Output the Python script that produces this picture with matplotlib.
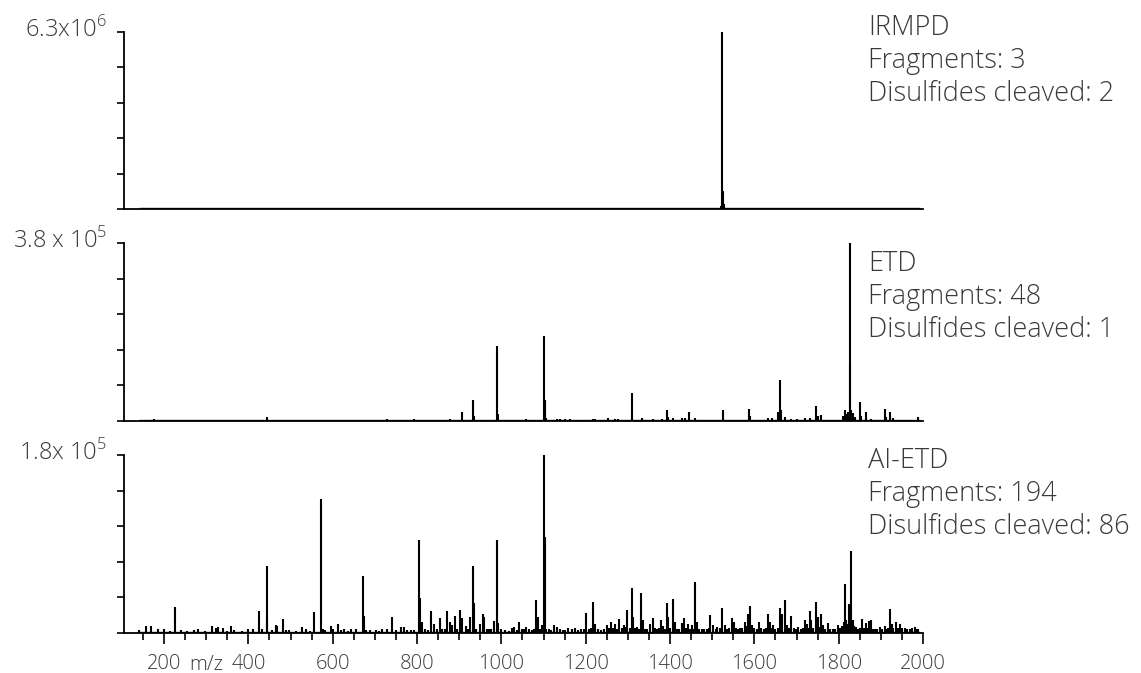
import matplotlib
matplotlib.use("Agg")
import matplotlib.pyplot as plt
from matplotlib.ticker import MultipleLocator
import numpy as np

plt.rcParams["font.family"] = ["Open Sans", "DejaVu Sans"]
plt.rcParams["font.weight"] = "light"
plt.rcParams["mathtext.fontset"] = "custom"
plt.rcParams["mathtext.rm"] = "Open Sans:light"

W, H = 1141, 673
TXT = "#3a3a3a"

# scan range of the recorded trace (m/z)
SCAN_START, SCAN_END = 140, 1992
XMIN, XMAX = 105, 2000

# peaks: (m/z, relative intensity in % of panel max)
IRMPD_PEAKS = [(1522, 1.5), (1524, 100), (1525, 10), (1527, 3)]

ETD_PEAKS = [
    (146, 0.8), (177, 1), (444, 2.2), (729, 1), (792, 1), (879, 1), (907, 5),
    (932, 11.8), (934, 3), (990, 42), (992, 4), (1059, 1), (1102, 48), (1103, 12),
    (1107, 1.5), (1133, 1), (1140, 1), (1150, 1), (1163, 1), (1218, 1.2), (1222, 1),
    (1254, 1.7), (1270, 1.2), (1277, 1.2), (1309, 16), (1311, 3), (1333, 1.7),
    (1359, 1.2), (1380, 1.2), (1392, 6), (1395, 2), (1407, 1.7), (1428, 1.7),
    (1435, 1.7), (1445, 5), (1459, 1.7), (1503, 0.8), (1510, 0.8), (1525, 6),
    (1549, 0.8), (1587, 7), (1589, 3), (1632, 1.7), (1643, 1.7), (1655, 5),
    (1660, 23), (1663, 6), (1672, 2.2), (1688, 1.2), (1700, 1.2), (1720, 1.7),
    (1731, 1.7), (1747, 8.6), (1750, 3), (1757, 3.4), (1810, 3), (1814, 6.2),
    (1818, 4), (1822, 5), (1826, 31), (1827, 100), (1830, 6), (1833, 4.5),
    (1838, 2), (1850, 10.5), (1853, 3), (1864, 5), (1877, 1.2), (1909, 7),
    (1912, 2), (1922, 5), (1928, 1.7), (1975, 0.6), (1989, 2.2),
]

AIETD_PEAKS = [
    (141, 1.5), (157, 3.8), (169, 4), (185, 2.4), (199, 2.4), (213, 1.2), (227, 14.4),
    (240, 1.5), (255, 1), (270, 1.5), (281, 2.4), (298, 1), (314, 3.8), (323, 2.8),
    (327, 3.2), (339, 2.8), (350, 1), (359, 3.8), (366, 1.5), (385, 1), (400, 2.4),
    (410, 2.4), (426, 12.2), (432, 2), (444, 37.9), (445, 7.9), (457, 1.5), (465, 4.7),
    (469, 3.8), (482, 8), (490, 1.5), (497, 1.5), (512, 1), (528, 3.2), (536, 2.4),
    (545, 1.2), (556, 11.6), (572, 75.4), (576, 2), (582, 1.8), (595, 3.8), (601, 2.4),
    (613, 5.3), (620, 1.5), (627, 2.4), (636, 1.2), (644, 2.2), (656, 2.2), (673, 32.3),
    (674, 9.8), (680, 1.5), (688, 1.8), (702, 1.8), (710, 1.2), (718, 2), (729, 2),
    (741, 9), (750, 1.5), (761, 3.2), (770, 3.2), (777, 1.5), (785, 1.8), (792, 1.5),
    (804, 52), (807, 19.7), (812, 6), (820, 2.2), (827, 1.5), (834, 12.2), (840, 5.3),
    (847, 2), (854, 8.4), (860, 2.4), (866, 2), (871, 12.2), (878, 6.2), (883, 4.3),
    (889, 9.8), (895, 2.5), (901, 13.1), (907, 8.4), (915, 4), (920, 2), (925, 9),
    (932, 37.5), (934, 16.9), (941, 2.5), (950, 5.3), (956, 10.7), (960, 8.8),
    (965, 2.5), (970, 2.4), (976, 2), (983, 7), (990, 52.5), (992, 5.6), (1000, 2),
    (1009, 1.5), (1017, 1.2), (1025, 2.8), (1031, 3.4), (1037, 1.5), (1043, 6.2),
    (1048, 2), (1053, 2.4), (1059, 3.4), (1066, 2), (1072, 1.5), (1078, 2.5),
    (1083, 18.8), (1086, 9), (1090, 2), (1094, 2.2), (1096, 4.3), (1099, 4.7),
    (1102, 100), (1103, 54), (1107, 2.5), (1113, 2), (1118, 1.5), (1124, 4.3),
    (1133, 3.4), (1140, 2.4), (1146, 1.5), (1152, 1.5), (1159, 2.8), (1167, 2.2),
    (1175, 2.8), (1182, 1.5), (1190, 2), (1196, 2.5), (1201, 11.3), (1207, 2.4),
    (1212, 3), (1217, 17.4), (1222, 5.3), (1230, 2.2), (1236, 1.5), (1243, 2.5),
    (1250, 4.3), (1255, 2.8), (1260, 6.2), (1265, 3), (1270, 4.9), (1275, 2.5),
    (1280, 8), (1285, 3), (1290, 4.3), (1295, 3.5), (1299, 13.1), (1305, 3),
    (1310, 25.3), (1313, 9), (1317, 3), (1321, 3.4), (1326, 2.5), (1331, 22.7),
    (1335, 7.1), (1340, 2.5), (1346, 2), (1353, 4.9), (1360, 8.6), (1364, 3),
    (1369, 2.4), (1374, 3), (1378, 7.5), (1384, 3.8), (1388, 2.5), (1392, 16.9),
    (1396, 9), (1401, 3), (1406, 19.3), (1412, 6.2), (1417, 2.5), (1422, 2),
    (1428, 5.6), (1434, 8.6), (1438, 3), (1443, 5.3), (1447, 2.5), (1451, 4.3),
    (1455, 2.5), (1459, 28.7), (1463, 6.2), (1468, 2.5), (1475, 2.4), (1481, 2),
    (1487, 2.5), (1492, 3), (1496, 10.3), (1503, 4.3), (1508, 2.5), (1512, 3.4),
    (1518, 3), (1524, 14.1), (1530, 4.3), (1535, 2.5), (1540, 3), (1546, 8.6),
    (1551, 6.2), (1556, 3), (1561, 2), (1566, 2.8), (1571, 3), (1577, 6.2),
    (1581, 4), (1585, 10.5), (1589, 15), (1595, 4.3), (1600, 3), (1606, 2.5),
    (1611, 6.2), (1616, 3), (1622, 2), (1628, 3), (1633, 10.9), (1637, 6.2),
    (1641, 3), (1645, 4.3), (1650, 2.5), (1655, 3), (1662, 14.1), (1666, 10.9),
    (1672, 18.4), (1678, 4.3), (1683, 3), (1688, 9.4), (1693, 3), (1698, 2.5),
    (1704, 3.4), (1710, 2.5), (1716, 3), (1721, 7.5), (1724, 5.3), (1728, 3),
    (1731, 12.4), (1735, 7.1), (1740, 3), (1747, 17.4), (1751, 9), (1755, 3.5),
    (1759, 10.5), (1763, 4.3), (1768, 2.5), (1775, 5.6), (1780, 2.5), (1786, 2),
    (1792, 2.5), (1798, 4.3), (1803, 3), (1808, 4), (1812, 6), (1814, 27.4),
    (1817, 7.5), (1821, 5), (1825, 16.5), (1828, 8), (1830, 46.2), (1834, 7.1),
    (1837, 4), (1840, 3.4), (1845, 2.5), (1850, 3), (1855, 8), (1860, 3),
    (1864, 5.6), (1868, 3), (1873, 6.6), (1877, 7.1), (1882, 2.5), (1887, 2.5),
    (1892, 2), (1897, 3.4), (1903, 2.5), (1909, 3.8), (1915, 2.5), (1918, 3),
    (1922, 13.3), (1926, 5.3), (1930, 3), (1935, 6.2), (1940, 3), (1945, 5.3),
    (1950, 3), (1957, 3), (1962, 2.5), (1968, 2.4), (1974, 3), (1980, 3.4),
    (1985, 2.5), (1988, 2.4),
]

METHODS = ["IRMPD", "ETD", "AI-ETD"]
FRAGMENTS = [3, 48, 194]
DISULFIDES = [2, 1, 86]
YMAX_LABELS = ["6.3x10$^{6}$", "3.8 x 10$^{5}$", "1.8x 10$^{5}$"]
SPECTRA = [IRMPD_PEAKS, ETD_PEAKS, AIETD_PEAKS]

# layout in pixels: (axes top, axes bottom, first text baseline)
PANELS_PX = [(32, 209, 35), (243, 421, 271), (455, 633, 468)]
AX_LEFT, AX_RIGHT = 124, 923
TEXT_X = 868
LINE_STEP = 33


def fx(px):
    return px / W


def fy(py):
    return 1 - py / H


fig = plt.figure(figsize=(W / 100, H / 100), dpi=100)
fig.patch.set_facecolor("white")

for i, (top, bot, tb) in enumerate(PANELS_PX):
    ax = fig.add_axes([fx(AX_LEFT), fy(bot), (AX_RIGHT - AX_LEFT) / W, (bot - top) / H])
    mz, inten = np.array(SPECTRA[i], dtype=float).T
    ax.vlines(mz, 0, inten, color="black", lw=1.5)
    ax.plot([SCAN_START, SCAN_END], [0, 0], color="black", lw=2.4,
            solid_capstyle="butt")
    ax.set_xlim(XMIN, XMAX)
    ax.set_ylim(0, 100)
    for s in ["top", "right"]:
        ax.spines[s].set_visible(False)
    for s in ["left", "bottom"]:
        ax.spines[s].set_linewidth(1.3)
    ax.set_yticks(np.linspace(0, 100, 6))
    ax.set_yticklabels([])
    ax.tick_params(axis="y", length=5, width=1.2, direction="out")
    if i < 2:
        ax.tick_params(axis="x", bottom=False, labelbottom=False)
    else:
        ax.xaxis.set_major_locator(MultipleLocator(200))
        ax.xaxis.set_minor_locator(MultipleLocator(50))
        ax.tick_params(axis="x", which="major", length=8, width=1.2, pad=7,
                       labelsize=14.5, labelcolor=TXT)
        ax.tick_params(axis="x", which="minor", length=5, width=1.2)
        fig.text(fx(189), fy(670), "m/z", fontsize=14.5, color=TXT,
                 ha="left", va="baseline")

    fig.text(fx(107), fy(top + 5), YMAX_LABELS[i], fontsize=17, color=TXT,
             ha="right", va="baseline")
    lines = [METHODS[i], f"Fragments: {FRAGMENTS[i]}",
             f"Disulfides cleaved: {DISULFIDES[i]}"]
    for k, t in enumerate(lines):
        fig.text(fx(TEXT_X), fy(tb + k * LINE_STEP), t, fontsize=19.5, color=TXT,
                 ha="left", va="baseline")

fig.savefig("out.png", dpi=100, facecolor="white")
